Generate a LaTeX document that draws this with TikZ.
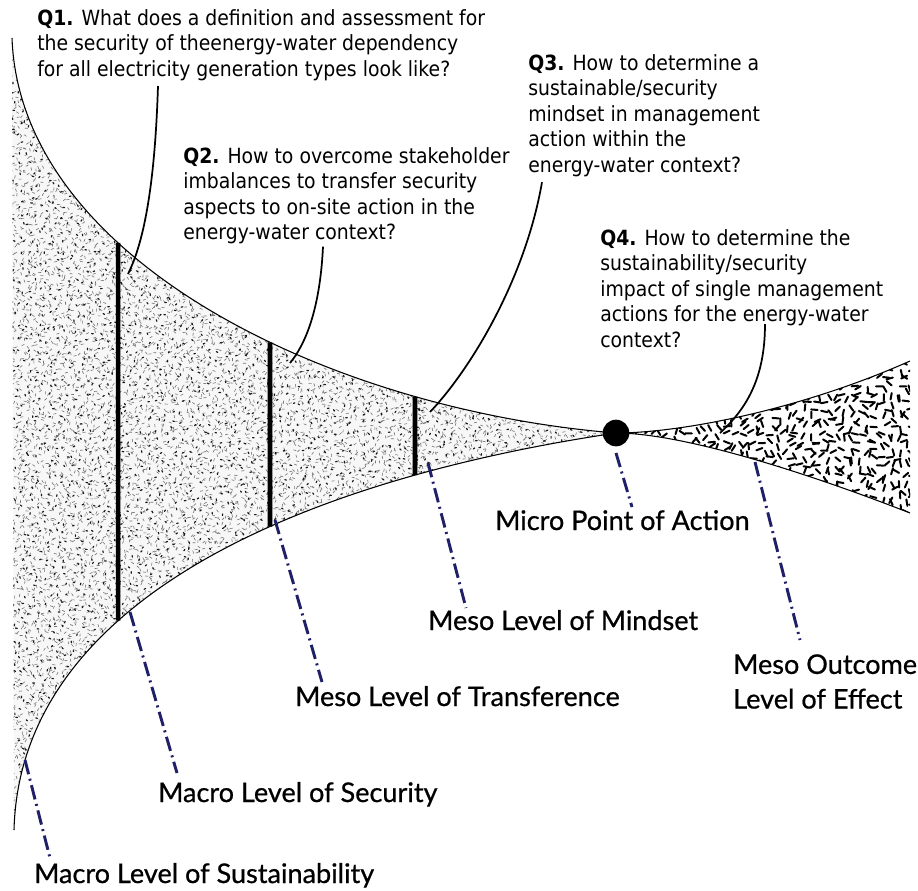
\documentclass[tikz,border=0pt]{standalone}
\usepackage{fontspec}
\setmainfont{DejaVu Sans}[FakeStretch=0.9]
\newfontfamily\levelfont{Lato}[FakeBold=0.7]
\usetikzlibrary{calc,intersections,positioning}
\definecolor{pointernavy}{RGB}{32,32,104}
\tikzset{
edge line/.style={line width=0.8pt},
level bar/.style={line width=3.4pt},
leader/.style={line width=1.3pt},
level pointer/.style={pointernavy, line width=2.2pt, dash pattern=on 11pt off 3.5pt on 1.5pt off 3.5pt},
question/.style={align=left, inner sep=0pt, anchor=north west, font=\fontsize{15.7}{19.2}\selectfont},
level label/.style={inner sep=0pt, anchor=base west, font=\levelfont\fontsize{20.3}{26}\selectfont},
speck/.style={line width=0.45pt, black!55},
dark speck/.style={line width=0.9pt, black!90, line cap=round},
dash speck/.style={line width=1.5pt, black, line cap=round},
}
\begin{document}
\begin{tikzpicture}[x=0.75pt,y=0.75pt,yscale=-1,xscale=1]
\useasboundingbox (0,0) rectangle (918,890);
%Funnel edges
\path[name path=upperleft] (12,38) .. controls (20,260) and (330,410) .. (616,433);
\path[name path=lowerleft] (14,830) .. controls (20,600) and (300,480) .. (616,433);
%Left texture
\begin{scope}
\clip (12,38) .. controls (20,260) and (330,410) .. (616,433) .. controls (300,480) and (20,600) .. (14,830) -- cycle;
\fill[gray!6] (0,0) rectangle (640,890);
\pgfmathsetseed{42}
\foreach \xa/\xb/\xe/\ya/\yb/\ye in {12/17/120/36/41/832, 120/125/272/215/220/640, 272/277/418/325/330/545, 418/423/618/385/390/485}{
  \foreach \x in {\xa,\xb,...,\xe}{
    \foreach \y in {\ya,\yb,...,\ye}{
      \draw[speck] (\x+3*rand,\y+3*rand) -- ++(360*rnd:3);
    }
  }
}
\foreach \xa/\xb/\xe/\ya/\yb/\ye in {12/21/120/36/45/832, 120/129/272/215/224/640, 272/281/418/325/334/545, 418/427/618/385/394/485}{
  \foreach \x in {\xa,\xb,...,\xe}{
    \foreach \y in {\ya,\yb,...,\ye}{
      \draw[dark speck] (\x+4*rand,\y+4*rand) -- ++(360*rnd:1.6);
    }
  }
}
\end{scope}
%Right texture
\begin{scope}
\clip (616,433) .. controls (680,433) and (800,410) .. (910,361) -- (910,513) .. controls (800,470) and (680,433) .. (616,433) -- cycle;
\pgfmathsetseed{7}
\foreach \x in {612,620,...,916}{
  \foreach \y in {354,362,...,520}{
    \draw[dash speck] (\x+1.2*rand,\y+1.2*rand) -- ++(360*rnd:6.5);
  }
}
\end{scope}
%Outlines
\draw[edge line] (12,38) .. controls (20,260) and (330,410) .. (616,433);
\draw[edge line] (14,830) .. controls (20,600) and (300,480) .. (616,433);
\draw[edge line] (616,433) .. controls (680,433) and (800,410) .. (910,361);
\draw[edge line] (616,433) .. controls (680,433) and (800,470) .. (910,513);
%Level bars
\foreach \bx/\bn in {118/1,270/2,415/3}{
  \path[name path=cut] (\bx,0) -- (\bx,890);
  \path[name intersections={of=upperleft and cut, by={top\bn}}];
  \path[name intersections={of=lowerleft and cut, by={bot\bn}}];
  \draw[level bar] (top\bn) -- (bot\bn);
}
%Point of action
\node[circle, fill=black, inner sep=0pt, minimum size=20] (micro) at (616,433) {};
%Questions
\node[question] (q1) at (37,9) {\textbf{Q1.} What does a definition and assessment for\\the security of theenergy-water dependency\\for all electricity generation types look like?};
\node[question] (q2) at (183,147) {\textbf{Q2.} How to overcome stakeholder\\imbalances to transfer security\\aspects to on-site action in the\\energy-water context?};
\node[question] (q3) at (528,54) {\textbf{Q3.} How to determine a\\sustainable/security\\mindset in management\\action within the\\energy-water context?};
\node[question] (q4) at (600,229) {\textbf{Q4.} How to determine the\\sustainability/security\\impact of single management\\actions for the energy-water\\context?};
%Leader tips
\coordinate (q1tip) at (128,274);
\coordinate (q2tip) at (290,363);
\coordinate (q3tip) at (430,412);
\coordinate (q4tip) at (720,433);
\draw[leader] (q1.south west -| 158,0) ++(0,5) .. controls (155,180) and (145,240) .. (q1tip);
\draw[leader] (q2.south west -| 323,0) ++(0,2) .. controls (320,310) and (305,345) .. (q2tip);
\draw[leader] (q3.south west -| 542,0) ++(0,5) .. controls (525,280) and (470,370) .. (q3tip);
\draw[leader] (q4.south west) ++(165,-24) .. controls (765,380) and (745,410) .. (q4tip);
%Level labels
\node[level label] (sust) at (34,883) {Macro Level of Sustainability};
\node[level label] (secu) at (158,802) {Macro Level of Security};
\node[level label] (tran) at (295,706) {Meso Level of Transference};
\node[level label] (mind) at (428,630) {Meso Level of Mindset};
\node[level label] (act) at (495,530) {Micro Point of Action};
\node[level label, align=left, anchor=north west] (effect) at (733,654) {Meso Outcome\\Level of Effect};
%Pointers
\coordinate (p1) at (25,760);
\coordinate (p2) at (130,612);
\coordinate (p3) at (275,520);
\coordinate (p4) at (428,463);
\coordinate (p5) at (616,453);
\coordinate (p6) at (755,462);
\draw[level pointer] (p1) -- (50,858);
\draw[level pointer] (p2) -- (177,773);
\draw[level pointer] (p3) -- (322,682);
\draw[level pointer] (p4) -- (466,608);
\draw[level pointer] (p5) -- (632,507);
\draw[level pointer] (p6) -- (800,640);
\end{tikzpicture}
\end{document}
